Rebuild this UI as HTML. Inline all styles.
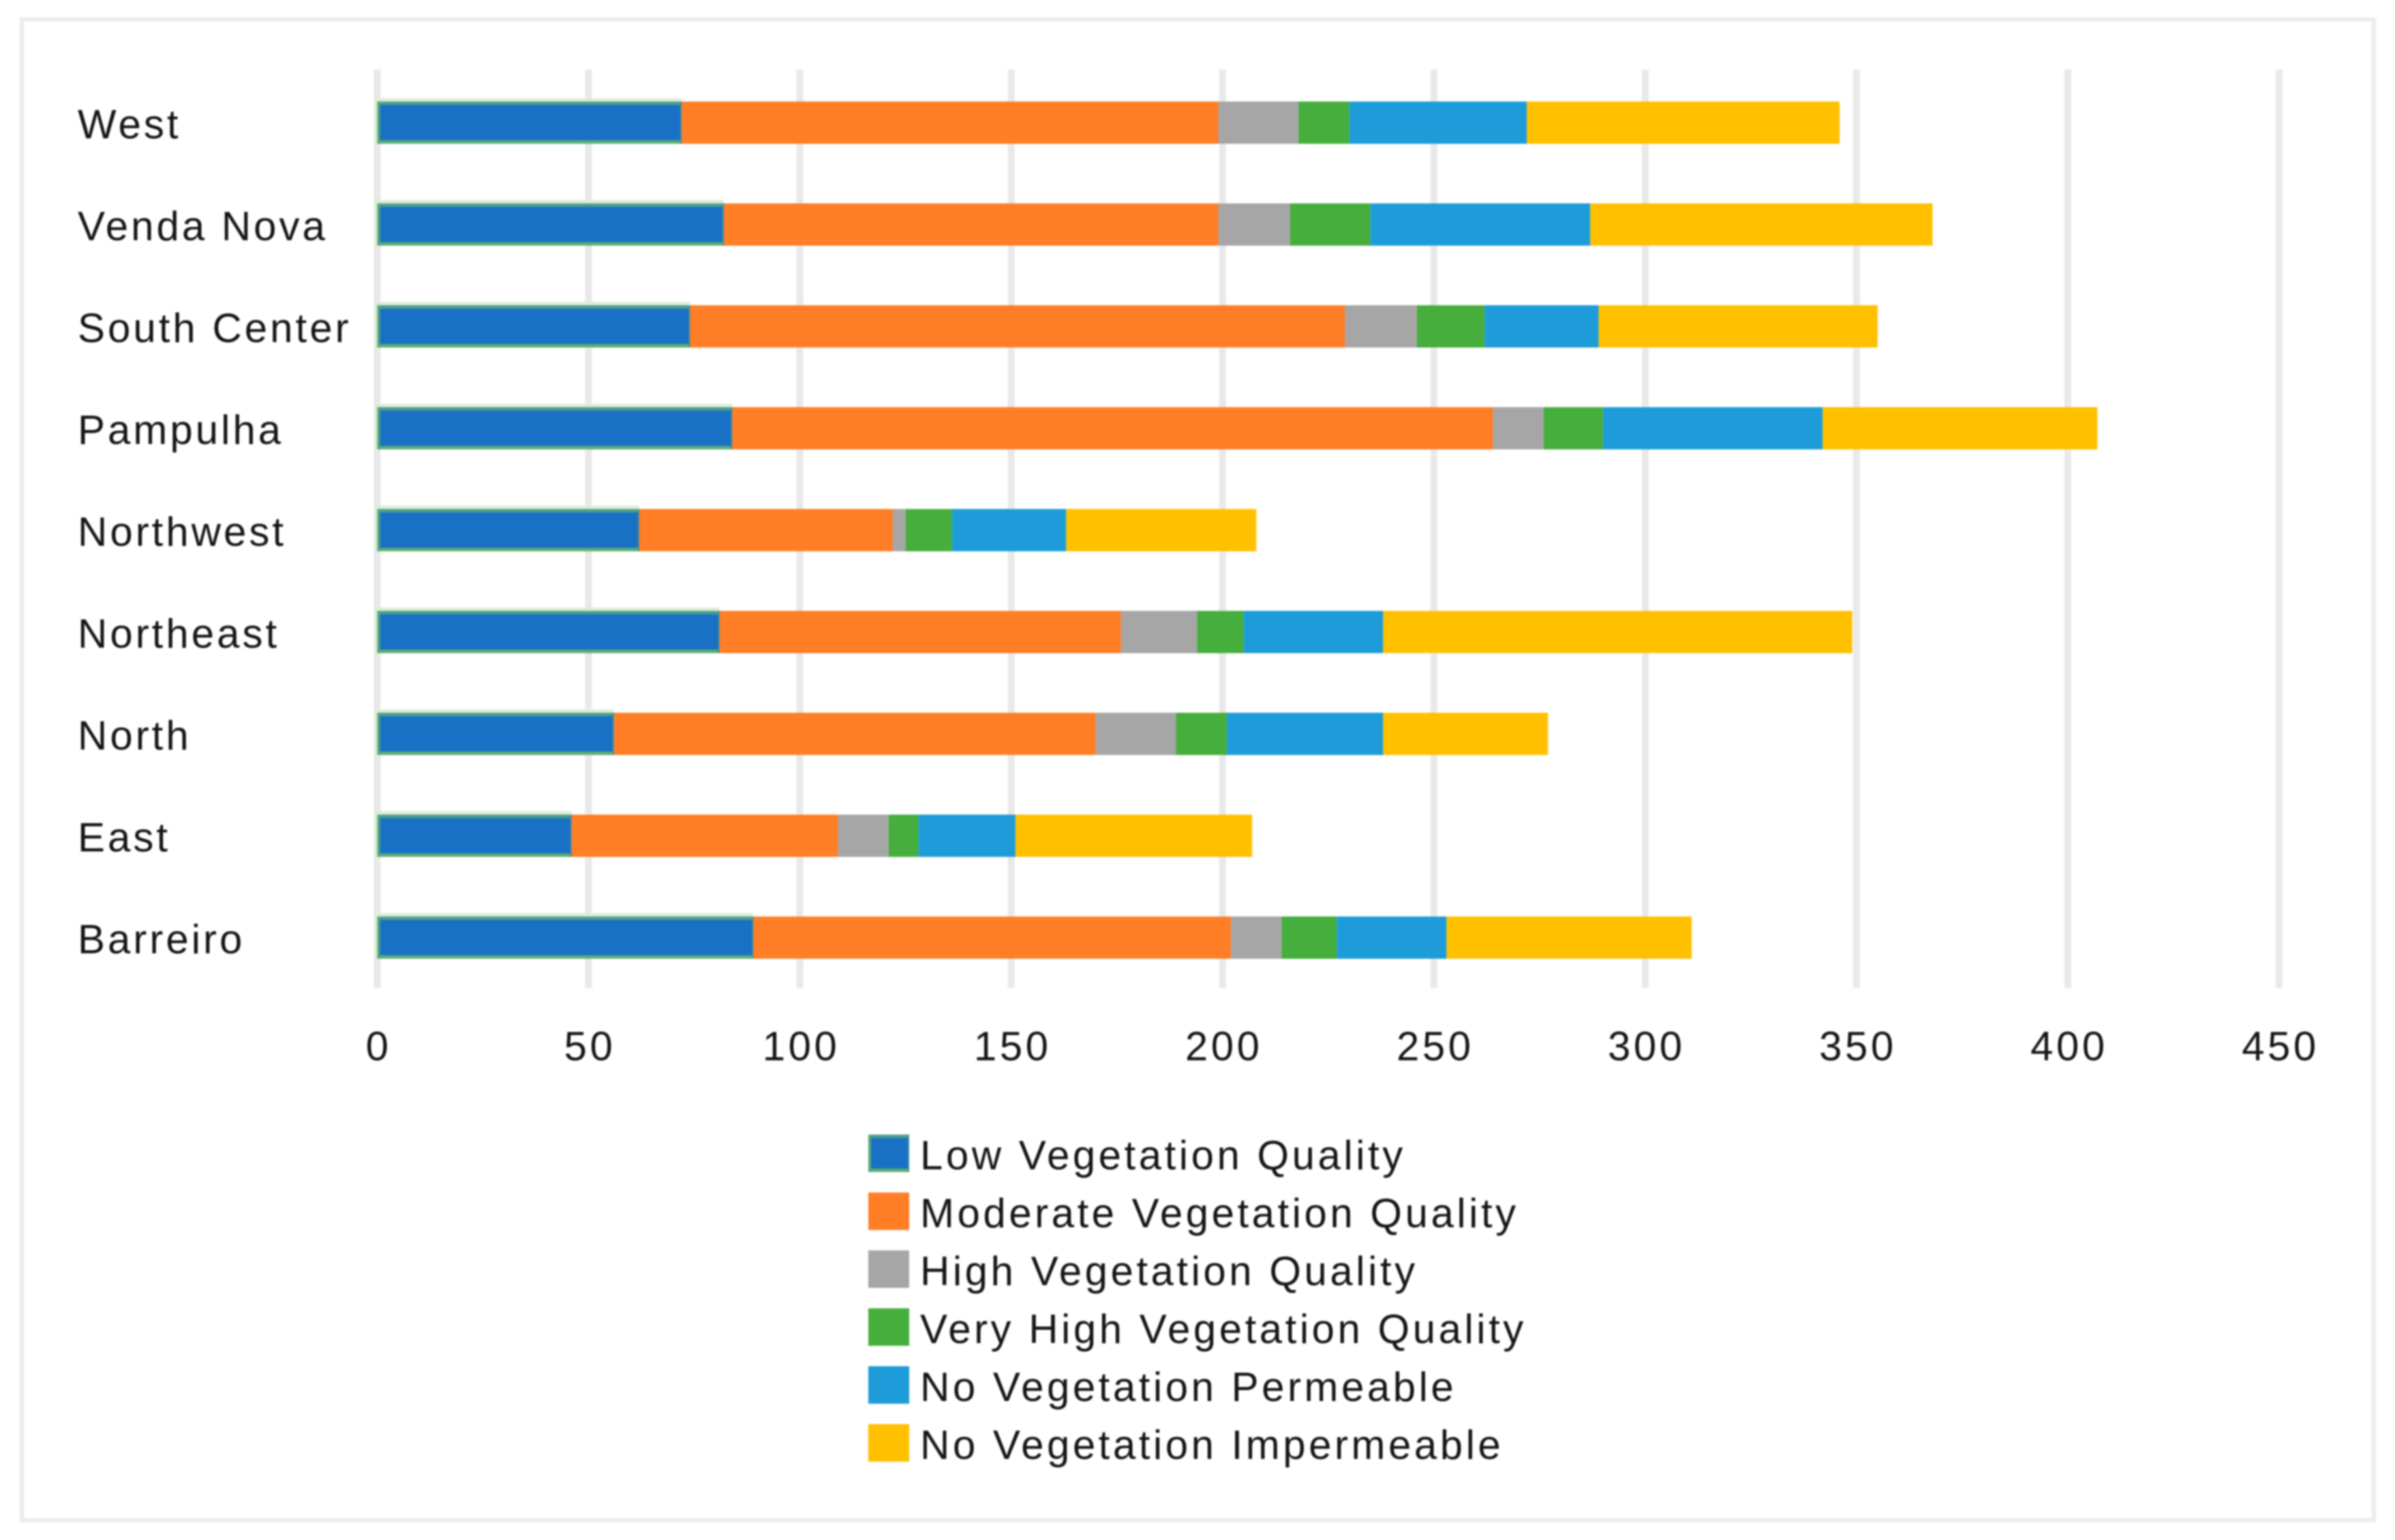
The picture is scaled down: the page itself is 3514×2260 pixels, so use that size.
<!DOCTYPE html>
<html lang="en">
<head>
<meta charset="utf-8">
<title>Vegetation quality by region</title>
<style>
html,body{margin:0;padding:0;background:#fff;width:3514px;height:2260px;overflow:hidden}
svg{display:block}
text{font-family:"Liberation Sans",sans-serif;font-size:60px;letter-spacing:4.5px;fill:#151515}
#ylabels text{letter-spacing:4px}
#chart-soft{filter:blur(1.2px)}
</style>
</head>
<body>
<svg id="chart" xmlns="http://www.w3.org/2000/svg" width="3514" height="2260" viewBox="0 0 3514 2260">
  <rect x="0" y="0" width="3514" height="2260" fill="#fff"/>
  <g id="chart-soft">
    <rect x="32" y="28.5" width="3451" height="2202.5" fill="#fff" stroke="#ececec" stroke-width="6"/>
    <g id="grid"></g>
    <g id="bars"></g>
    <g id="ylabels"></g>
    <g id="xlabels"></g>
    <g id="legend"></g>
  </g>
</svg>
<script>
const categories = ["West", "Venda Nova", "South Center", "Pampulha", "Northwest", "Northeast", "North", "East", "Barreiro"];
const seriesNames = ["Low Vegetation Quality", "Moderate Vegetation Quality", "High Vegetation Quality", "Very High Vegetation Quality", "No Vegetation Permeable", "No Vegetation Impermeable"];
const lowQuality = [72, 82, 74, 84, 62, 81, 56, 46, 89];
const moderateQuality = [127, 117, 155, 180, 60, 95, 114, 63, 113];
const highQuality = [19, 17, 17, 12, 3, 18, 19, 12, 12];
const veryHighQuality = [12, 19, 16, 14, 11, 11, 12, 7, 13];
const noVegPermeable = [42, 52, 27, 52, 27, 33, 37, 23, 26];
const noVegImpermeable = [74, 81, 66, 65, 45, 111, 39, 56, 58];
const xTicks = [0, 50, 100, 150, 200, 250, 300, 350, 400, 450];

const allSeries = [lowQuality, moderateQuality, highQuality, veryHighQuality, noVegPermeable, noVegImpermeable];
const seriesColors = ["#1971c6", "#ff7e26", "#a6a6a6", "#46ae3c", "#1d9cd9", "#ffc000"];

const NS = "http://www.w3.org/2000/svg";
const X0 = 553.5, X1 = 3344, XMAX = 450;
const Y_FIRST = 180, Y_STEP = 149.5, BAR_H = 62;
const GRID_TOP = 102, GRID_BOTTOM = 1450;
function xScale(v) { return X0 + (v / XMAX) * (X1 - X0); }
function yScale(i) { return Y_FIRST + i * Y_STEP; }
function slug(s) { return s.toLowerCase().replace(/\s+/g, "-"); }
function make(tag, attrs, parent) {
  const el = document.createElementNS(NS, tag);
  for (const k in attrs) el.setAttribute(k, attrs[k]);
  parent.appendChild(el);
  return el;
}
function edgeStripes(a, b, top, h, parent) {
  make("rect", { x: a, y: top, width: b - a, height: 5, fill: "#4f9f8c" }, parent);
  make("rect", { x: a, y: top + h - 5, width: b - a, height: 5, fill: "#5fae72" }, parent);
  make("rect", { x: a, y: top, width: 4, height: h, fill: "#55a97a" }, parent);
  make("rect", { x: b - 2, y: top, width: 2, height: h, fill: "#3f8f9f" }, parent);
}

const gridG = document.getElementById("grid");
const xlabG = document.getElementById("xlabels");
xTicks.forEach(function (t) {
  const line = make("line", { x1: xScale(t), x2: xScale(t), y1: GRID_TOP, y2: GRID_BOTTOM, stroke: "#e9e9e9", "stroke-width": 10 }, gridG);
  
  
  const label = make("text", { x: xScale(t) + 2, y: 1556, "text-anchor": "middle" }, xlabG);
  label.textContent = String(t);
  
  
});

const barsG = document.getElementById("bars");
const ylabG = document.getElementById("ylabels");
categories.forEach(function (cat, i) {
  const cy = yScale(i);
  let cum = 0;
  allSeries.forEach(function (vals, s) {
    const a = xScale(cum), b = xScale(cum + vals[i]);
    if (s === 0) {
      const halo = make("rect", { x: a - 5, y: cy - BAR_H / 2 - 5, width: b - a + 5, height: BAR_H + 5, fill: "#dcedd6" }, barsG);
      
      
    }
    const r = make("rect", { x: a, y: cy - BAR_H / 2, width: b - a, height: BAR_H, fill: seriesColors[s] }, barsG);
    
    
    if (s === 0) {
      edgeStripes(a, b, cy - BAR_H / 2, BAR_H, barsG);
    }
    cum += vals[i];
  });
  const lab = make("text", { x: 114, y: cy + 23 }, ylabG);
  lab.textContent = cat;
  
  
});

const legendG = document.getElementById("legend");
seriesNames.forEach(function (name, s) {
  const top = 1665 + s * 85;
  const sw = make("rect", { x: 1274, y: top, width: 60, height: 55, fill: seriesColors[s] }, legendG);
  
  
  if (s === 0) {
    edgeStripes(1274, 1334, top, 55, legendG);
  }
  const t = make("text", { x: 1350, y: top + 51 }, legendG);
  t.textContent = name;
  
  
});
</script>
</body>
</html>
